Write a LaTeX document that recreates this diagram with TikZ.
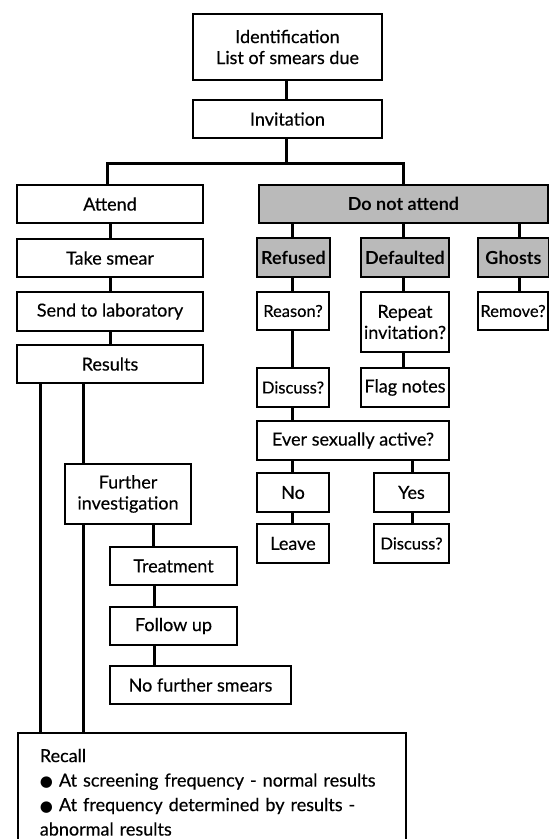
\documentclass[tikz,border=0pt]{standalone}
\usepackage{fontspec}
\setmainfont{Lato}[UprightFeatures={FakeBold=0.35}]
\newfontfamily\symfont{DejaVu Sans}
\begin{document}
\begin{tikzpicture}[x=1pt,y=-1pt,
  box/.style={draw=black,line width=1.8pt,fill=white,inner sep=0pt,align=center,
    font=\fontsize{18}{21}\selectfont},
  smallbox/.style={box,font=\fontsize{16.5}{21}\selectfont},
  graybox/.style={box,fill=black!27,font=\fontsize{18}{21}\selectfont\bfseries},
  conn/.style={line width=3pt}]
\useasboundingbox (0,0) rectangle (549,839);
\clip (0,0) rectangle (549,839);
\fill[white] (0,0) rectangle (549,839);
% left column
\node[box,minimum width=189pt,minimum height=66pt] (ident) at (287.5,47) {Identification\\List of smears due};
\node[box,minimum width=189pt,minimum height=38pt] (invit) at (287.5,119) {Invitation};
\node[box,minimum width=186pt,minimum height=38pt] (attend) at (110,204) {Attend};
\node[graybox,minimum width=289pt,minimum height=38pt] (dna) at (403.5,204) {Do not attend};
\node[box,minimum width=186pt,minimum height=38pt] (smear) at (110,258) {Take smear};
\node[box,minimum width=186pt,minimum height=39pt] (send) at (110,311.5) {Send to laboratory};
\node[box,minimum width=186pt,minimum height=38pt] (results) at (110,364) {Results};
\node[box,minimum width=126pt,minimum height=60pt] (fi) at (128,494) {Further\\investigation};
\node[box,minimum width=127pt,minimum height=38pt] (treat) at (173.5,566) {Treatment};
\node[box,minimum width=127pt,minimum height=38pt] (follow) at (173.5,626) {Follow up};
\node[box,minimum width=181pt,minimum height=38pt] (nfs) at (200.5,685) {No further smears};
\node[box,anchor=north west,minimum width=388pt,minimum height=115pt,align=left,
  text width=372pt,inner sep=0pt,font=\fontsize{18}{24.5}\selectfont] (recall) at (17,732)
  {\rule{0pt}{17pt}\hspace*{14pt}Recall\\
   \hspace*{14pt}{\symfont\fontsize{15}{24}\selectfont ●} At screening frequency - normal results\\
   \hspace*{14pt}{\symfont\fontsize{15}{24}\selectfont ●} At frequency determined by results -\\
   \hspace*{14pt}abnormal results\\[14pt]};
% right column
\node[graybox,minimum width=73pt,minimum height=39pt] (refused) at (293.5,257.5) {Refused};
\node[graybox,minimum width=88pt,minimum height=39pt] (default) at (405,257.5) {Defaulted};
\node[graybox,minimum width=71pt,minimum height=39pt] (ghosts) at (513.5,257.5) {Ghosts};
\node[smallbox,minimum width=72pt,minimum height=38pt] (reason) at (293,311) {Reason?};
\node[box,minimum width=88pt,minimum height=60pt] (repeat) at (405,322) {Repeat\\invitation?};
\node[smallbox,minimum width=70pt,minimum height=38pt] (remove) at (513,311) {Remove?};
\node[smallbox,minimum width=72pt,minimum height=39pt] (disc1) at (293,387.5) {Discuss?};
\node[box,minimum width=88pt,minimum height=39pt] (flag) at (405,387.5) {Flag notes};
\node[box,minimum width=192pt,minimum height=39pt] (ever) at (353,440.5) {Ever sexually active?};
\node[box,minimum width=72pt,minimum height=39pt] (no) at (293,492.5) {No};
\node[box,minimum width=75pt,minimum height=39pt] (yes) at (411.5,492.5) {Yes};
\node[box,minimum width=72pt,minimum height=39pt] (leave) at (293,543.5) {Leave};
\node[smallbox,minimum width=75pt,minimum height=39pt] (disc2) at (411.5,543.5) {Discuss?};
% connectors
\coordinate (j) at (286,163);
\draw[conn] (ident.south -| j) -- (invit.north -| j);
\draw[conn] (invit.south -| j) -- (j);
\draw[conn] (attend.north -| 107,0) -- (107,163) -- (403,163) -- (dna.north -| 403,0);
\draw[conn] (attend.south) -- (smear.north);
\draw[conn] (smear.south) -- (send.north);
\draw[conn] (send.south) -- (results.north);
\draw[conn] ([xshift=24pt]results.south west) -- ([xshift=24pt]results.south west |- recall.north);
\draw[conn] ([xshift=67pt]results.south west) -- ([xshift=67pt]results.south west |- fi.north);
\draw[conn] ([xshift=19pt]fi.south west) -- ([xshift=19pt]fi.south west |- recall.north);
\draw[conn] ([xshift=89pt]fi.south west) -- ([xshift=89pt]fi.south west |- treat.north);
\draw[conn] (treat.south -| 154,0) -- (follow.north -| 154,0);
\draw[conn] (follow.south -| 154,0) -- (nfs.north -| 154,0);
\draw[conn] (dna.south -| 292,0) -- (refused.north -| 292,0);
\draw[conn] (dna.south -| 403,0) -- (default.north -| 403,0);
\draw[conn] (dna.south -| 519,0) -- (ghosts.north -| 519,0);
\draw[conn] (refused.south -| 292,0) -- (reason.north -| 292,0);
\draw[conn] (default.south -| 403,0) -- (repeat.north -| 403,0);
\draw[conn] (ghosts.south -| 519,0) -- (remove.north -| 519,0);
\draw[conn] (reason.south -| 292,0) -- (disc1.north -| 292,0);
\draw[conn] (repeat.south -| 403,0) -- (flag.north -| 403,0);
\draw[conn] (disc1.south -| 292,0) -- (ever.north -| 292,0);
\draw[conn] (ever.south -| 292,0) -- (no.north -| 292,0);
\draw[conn] (ever.south -| 412,0) -- (yes.north -| 412,0);
\draw[conn] (no.south -| 292,0) -- (leave.north -| 292,0);
\draw[conn] (yes.south -| 412,0) -- (disc2.north -| 412,0);
\end{tikzpicture}
\end{document}
